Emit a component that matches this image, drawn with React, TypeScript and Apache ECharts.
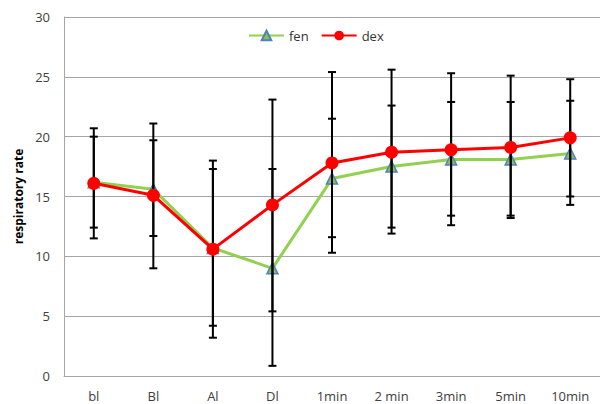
import React, { useEffect, useRef } from "react";
import * as echarts from "echarts";

const categories = ["bl", "Bl", "Al", "Dl", "1min", "2 min", "3min", "5min", "10min"];
const fenValues = [16.2, 15.6, 10.7, 9.0, 16.5, 17.5, 18.1, 18.1, 18.6];
const dexValues = [16.1, 15.1, 10.6, 14.3, 17.8, 18.7, 18.9, 19.1, 19.9];
const fenLow = [12.4, 11.7, 4.2, 0.85, 11.6, 12.4, 13.4, 13.4, 14.3];
const fenHigh = [20.0, 19.7, 17.3, 17.3, 21.5, 22.6, 22.9, 22.9, 23.0];
const dexLow = [11.5, 9.0, 3.2, 5.4, 10.3, 11.9, 12.6, 13.2, 15.0];
const dexHigh = [20.7, 21.1, 18.0, 23.1, 25.4, 25.6, 25.3, 25.1, 24.8];
const yTicks = { min: 0, max: 30, interval: 5 };

const FONT = "'Open Sans', 'Liberation Sans', sans-serif";

export default function App() {
  const ref = useRef<HTMLDivElement>(null);
  useEffect(() => {
    if (!ref.current) return;
    const chart = echarts.init(ref.current, null, { renderer: "svg" });
    const errData: number[][] = [];
    categories.forEach((_, i) => {
      errData.push([i, fenLow[i], fenHigh[i]]);
      errData.push([i, dexLow[i], dexHigh[i]]);
    });
    chart.setOption({
      animation: false,
      backgroundColor: "#ffffff",
      grid: { left: 64, top: 17, width: 543, height: 359 },
      legend: {
        left: 243,
        top: 24,
        itemWidth: 35,
        itemHeight: 12,
        itemGap: 12,
        textStyle: { fontFamily: FONT, fontSize: 13, color: "#333" },
        data: ["fen", "dex"],
      },
      xAxis: {
        type: "category",
        data: categories,
        boundaryGap: true,
        axisLine: { lineStyle: { color: "#a6a6a6", width: 1 } },
        axisTick: { show: false },
        axisLabel: { fontFamily: FONT, fontSize: 13, color: "#404040", margin: 13 },
      },
      yAxis: {
        type: "value",
        min: yTicks.min,
        max: yTicks.max,
        interval: yTicks.interval,
        name: "respiratory rate",
        nameLocation: "middle",
        nameGap: 40,
        nameTextStyle: { fontFamily: FONT, fontSize: 12, fontWeight: "bold", color: "#000" },
        axisLine: { show: true, lineStyle: { color: "#a6a6a6", width: 1 } },
        axisTick: { show: false },
        splitLine: { lineStyle: { color: "#a6a6a6", width: 1 } },
        axisLabel: { fontFamily: FONT, fontSize: 13, color: "#404040", margin: 14 },
      },
      series: [
        {
          name: "fen",
          type: "line",
          data: fenValues,
          z: 2,
          lineStyle: { color: "#92D050", width: 3 },
          itemStyle: { color: "#8cc152", borderColor: "#4f81bd", borderWidth: 1.5 },
          symbol: "triangle",
          symbolSize: 11,
          showAllSymbol: true,
        },
        {
          name: "errors",
          type: "custom",
          z: 3,
          data: errData,
          encode: { x: 0, y: [1, 2] },
          renderItem: (params: any, api: any) => {
            const idx = api.value(0);
            const lo = api.coord([idx, api.value(1)]);
            const hi = api.coord([idx, api.value(2)]);
            const cap = 4;
            const style = { stroke: "#000", lineWidth: 2 };
            return {
              type: "group",
              children: [
                { type: "line", shape: { x1: lo[0], y1: lo[1], x2: hi[0], y2: hi[1] }, style },
                { type: "line", shape: { x1: lo[0] - cap, y1: lo[1], x2: lo[0] + cap, y2: lo[1] }, style },
                { type: "line", shape: { x1: hi[0] - cap, y1: hi[1], x2: hi[0] + cap, y2: hi[1] }, style },
              ],
            };
          },
        },
        {
          name: "dex",
          type: "line",
          data: dexValues,
          z: 4,
          lineStyle: { color: "#FF0000", width: 3 },
          itemStyle: { color: "#FF0000" },
          symbol: "circle",
          symbolSize: 13,
          showAllSymbol: true,
        },
      ],
    });
    return () => chart.dispose();
  }, []);
  return (
    <div
      ref={ref}
      style={{ position: "fixed", left: 0, top: 0, width: 600, height: 404, background: "#fff" }}
    />
  );
}
